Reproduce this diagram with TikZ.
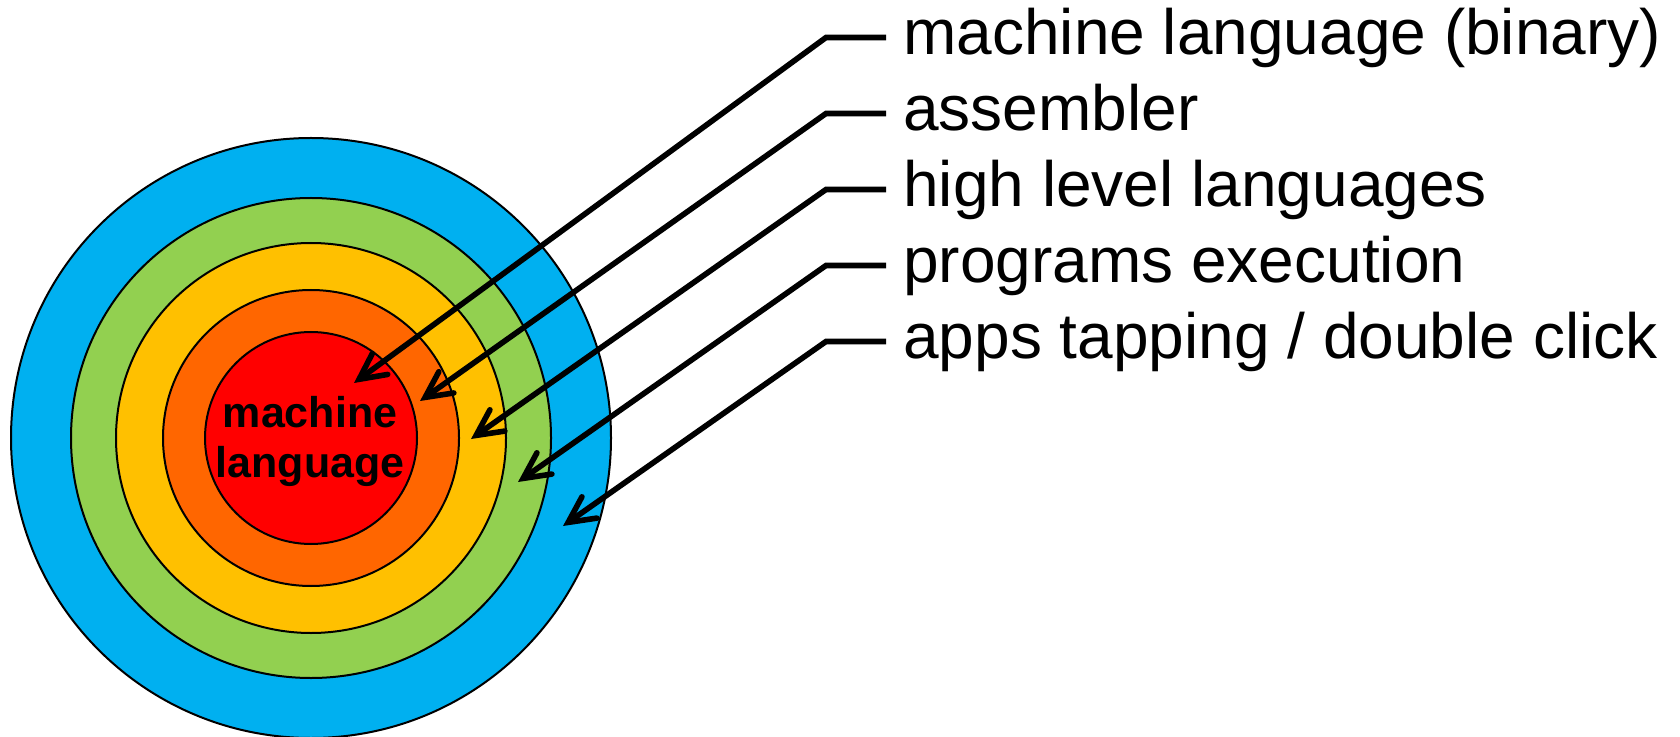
\documentclass[tikz,border=0pt]{standalone}
\usepackage{fontspec}
\setmainfont{Liberation Sans}
\usetikzlibrary{arrows.meta}

\definecolor{ringblue}{HTML}{00B0F0}
\definecolor{ringgreen}{HTML}{92D050}
\definecolor{ringyellow}{HTML}{FFC000}
\definecolor{ringorange}{HTML}{FF6600}
\definecolor{ringred}{HTML}{FF0000}

\tikzset{
  ring/.style={circle, draw=black, line width=1pt, inner sep=0pt},
  coretext/.style={font=\bfseries\fontsize{21.5pt}{25pt}\selectfont, inner sep=0pt, anchor=base},
  layerlabel/.style={font=\fontsize{32pt}{38pt}\selectfont, inner sep=0pt,
    text height=24pt, text depth=6.5pt, anchor=base west},
  pointer/.style={line width=2.8pt, line join=miter,
    -{Straight Barb[length=13pt,width=13pt,line cap=round]}}
}

\begin{document}
\begin{tikzpicture}[x=0.5pt, y=-0.5pt]
  \useasboundingbox (0,0) rectangle (1680,737);

  % concentric layers, outermost first
  \node[ring, fill=ringblue,   minimum size=300pt] (apps)  at (311,438) {};
  \node[ring, fill=ringgreen,  minimum size=240pt] (exec)  at (311,438) {};
  \node[ring, fill=ringyellow, minimum size=195pt] (high)  at (311,438) {};
  \node[ring, fill=ringorange, minimum size=148pt] (asm)   at (311,438) {};
  \node[ring, fill=ringred,    minimum size=106pt] (core)  at (311,438) {};

  \node[coretext] (coreA) at (310,427) {machine};
  \node[coretext] (coreB) at (310,477) {language};

  % layer labels
  \node[layerlabel] (lab1) at (903,55)  {machine language (binary)};
  \node[layerlabel] (lab2) at (903,131) {assembler};
  \node[layerlabel] (lab3) at (903,207) {high level languages};
  \node[layerlabel] (lab4) at (903,283) {programs execution};
  \node[layerlabel] (lab5) at (903,359) {apps tapping / double click};

  % bends of the leader lines
  \coordinate (k1) at (826,37.5);
  \coordinate (k2) at (826,113.5);
  \coordinate (k3) at (826,189.5);
  \coordinate (k4) at (826,265.5);
  \coordinate (k5) at (826,341.5);

  % arrow tips inside each layer
  \coordinate (t1) at (354,383);
  \coordinate (t2) at (420,401);
  \coordinate (t3) at (471,439);
  \coordinate (t4) at (518,482);
  \coordinate (t5) at (563,526);

  \draw[pointer] ([xshift=-8.5pt]lab1.west) -- (k1) -- (t1);
  \draw[pointer] ([xshift=-8.5pt]lab2.west) -- (k2) -- (t2);
  \draw[pointer] ([xshift=-8.5pt]lab3.west) -- (k3) -- (t3);
  \draw[pointer] ([xshift=-8.5pt]lab4.west) -- (k4) -- (t4);
  \draw[pointer] ([xshift=-8.5pt]lab5.west) -- (k5) -- (t5);
\end{tikzpicture}
\end{document}
